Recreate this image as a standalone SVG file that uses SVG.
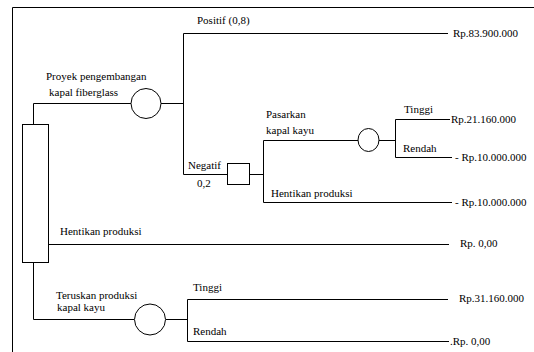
<svg xmlns="http://www.w3.org/2000/svg" width="534" height="352" viewBox="0 0 534 352">
<style>
.l{fill:none;stroke:#000;stroke-width:1}
.n{fill:#fff;stroke:#000;stroke-width:1}
text{font-family:"Liberation Serif","Times New Roman",serif;font-size:11px;fill:#000}
</style>
<rect width="534" height="352" fill="#fff"/>
<g id="frame"><path class="l" d="M12.5,352 V7.5 H534"/></g>
<g id="connectors">
<path class="l" d="M33.5,124 V103.5 H131"/>
<path class="l" d="M161,103.5 H183.5"/>
<path class="l" d="M448,33.5 H183.5 V174.5 H227"/>
<path class="l" d="M250,174.5 H263.5"/>
<path class="l" d="M358,140.5 H263.5 V202.5 H452"/>
<path class="l" d="M379,140.5 H395.5"/>
<path class="l" d="M450,119.5 H395.5 V157.5 H452"/>
<path class="l" d="M49,244.5 H449"/>
<path class="l" d="M33.5,262 V319.5 H134"/>
<path class="l" d="M166,319.5 H187.5"/>
<path class="l" d="M448,299.5 H187.5 V341.5 H449"/>
</g>
<g id="d-root"><rect class="n" x="22.5" y="124.5" width="26" height="138"/></g>
<g id="c-fiberglass"><circle class="n" cx="146" cy="103.5" r="15"/></g>
<g id="d-negatif"><rect class="n" x="227.5" y="163.5" width="22" height="21"/></g>
<g id="c-pasarkan"><ellipse class="n" cx="368.5" cy="140" rx="10.5" ry="11.5"/></g>
<g id="c-teruskan"><circle class="n" cx="150" cy="319.5" r="15.5"/></g>
<g id="labels">
<text x="197" y="24">Positif (0,8)</text>
<text x="46" y="80">Proyek pengembangan</text>
<text x="49" y="96">kapal fiberglass</text>
<text x="453" y="37">Rp.83.900.000</text>
<text x="188" y="169">Negatif</text>
<text x="197" y="187">0,2</text>
<text x="266" y="118">Pasarkan</text>
<text x="266" y="134">kapal kayu</text>
<text x="404" y="113">Tinggi</text>
<text x="403" y="152">Rendah</text>
<text x="451" y="123">Rp.21.160.000</text>
<text x="455" y="161">- Rp.10.000.000</text>
<text x="271" y="197">Hentikan produksi</text>
<text x="455" y="206">- Rp.10.000.000</text>
<text x="60" y="235">Hentikan produksi</text>
<text x="460" y="247">Rp. 0,00</text>
<text x="56" y="299">Teruskan produksi</text>
<text x="57" y="311">kapal kayu</text>
<text x="193" y="291">Tinggi</text>
<text x="193" y="335">Rendah</text>
<text x="459" y="302">Rp.31.160.000</text>
<text x="450" y="345">.Rp. 0,00</text>
</g>
</svg>
